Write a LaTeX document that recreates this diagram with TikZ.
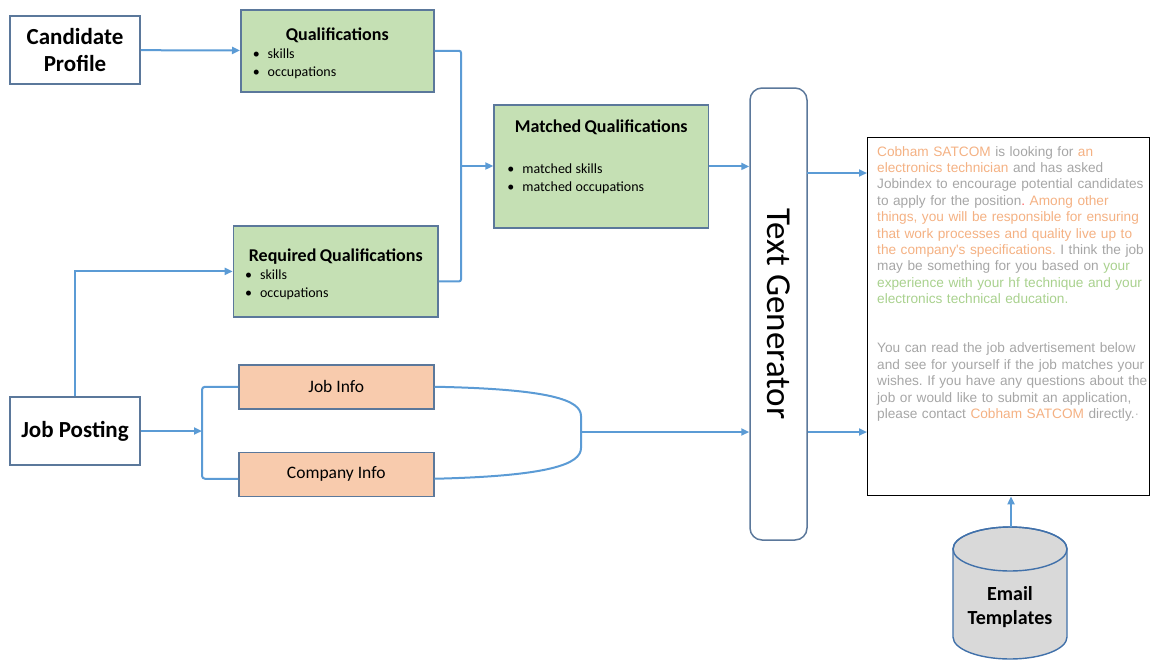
\documentclass[tikz,border=0pt]{standalone}
\usepackage{fontspec}
\usepackage{graphicx}
\setmainfont{Carlito}
\newfontfamily\arialfont{Liberation Sans}
\usetikzlibrary{arrows.meta, calc, positioning}
\definecolor{boxline}{RGB}{91,120,155}
\definecolor{linkblue}{RGB}{91,155,213}
\definecolor{qualgreen}{RGB}{197,224,180}
\definecolor{infoorange}{RGB}{248,203,173}
\definecolor{txtgrey}{RGB}{166,166,166}
\definecolor{txtorange}{RGB}{244,177,131}
\definecolor{txtgreen}{RGB}{169,209,142}
\definecolor{dbgrey}{RGB}{217,217,217}
\definecolor{dbline}{RGB}{65,113,170}
\newcommand{\qtitle}[1]{{\centering\fontsize{18}{22}\selectfont\bfseries\rule{0pt}{17.5pt}#1\par}\fontsize{14}{18}\selectfont}
\newcommand{\qitem}[1]{\makebox[15pt][l]{\textbullet}#1\par}
\tikzstyle{source}=[rectangle, draw=boxline, fill=white, line width=1.5pt, inner sep=0pt, minimum width=130pt, minimum height=68pt, align=center, font=\fontsize{23}{27.7}\selectfont\bfseries]
\tikzstyle{qual}=[rectangle, draw=boxline, fill=qualgreen, line width=1.5pt, inner sep=0pt, align=left, anchor=north west]
\tikzstyle{info}=[rectangle, draw=boxline, fill=infoorange, line width=1.5pt, minimum width=195pt, minimum height=44pt, font=\fontsize{17.5}{21}\selectfont, anchor=north west]
\tikzstyle{tgbox}=[rectangle, rounded corners=12pt, draw=boxline, line width=1.5pt, inner sep=0pt, minimum width=57pt, minimum height=452pt, font=\fontsize{35}{40}\selectfont]
\tikzstyle{link}=[draw=linkblue, line width=2pt]

\begin{document}
\begin{tikzpicture}[x=1pt, y=-1pt, >={Triangle[length=8pt, width=7pt]}]
  \useasboundingbox (0,0) rectangle (1150,659);

  % inputs
  \node[source] (cand) at (75,50) {Candidate\\Profile};
  \node[source] (post) at (75,431) {Job Posting};

  % qualifications
  \node[qual, minimum width=193pt, minimum height=82pt, text width=169pt] (qual) at (240,9)
    {\qtitle{Qualifications}\qitem{skills}\qitem{occupations}};
  \node[qual, minimum width=204.6pt, minimum height=90.7pt, text width=181.4pt] (req) at (232.7,225.3)
    {\qtitle{Required Qualifications}\qitem{skills}\qitem{occupations}};
  \node[qual, minimum width=214.4pt, minimum height=123.3pt, text width=187.6pt] (match) at (493.3,104)
    {\qtitle{Matched Qualifications}\vspace{23pt}\qitem{matched skills}\qitem{matched occupations\rule[-26pt]{0pt}{26pt}}};

  % job posting parts
  \node[info] (jobinfo) at (238,364) {Job Info};
  \node[info, below=42pt of jobinfo] (compinfo) {Company Info};

  % generator and output
  \node[tgbox] (tg) at (778.5,314) {\rotatebox{-90}{Text Generator}};
  \node[rectangle, draw=black, line width=1.4pt, minimum width=282pt, minimum height=358pt, anchor=north west] (mail) at (867,137) {};
  \node[anchor=north west, inner sep=0pt, text width=280pt, align=left, text=txtgrey,
        font=\frenchspacing\arialfont\fontsize{13.65}{16.4}\selectfont] (body) at (877,146)
    {\textcolor{txtorange}{Cobham SATCOM} is looking for \textcolor{txtorange}{an}\\
     \textcolor{txtorange}{electronics technician} and has asked\\
     Jobindex to encourage potential candidates\\
     to apply for the position\textcolor{red!60}{.} \textcolor{txtorange}{Among other}\\
     \textcolor{txtorange}{things, you will be responsible for ensuring}\\
     \textcolor{txtorange}{that work processes and quality live up to}\\
     \textcolor{txtorange}{the company's specifications.} I think the job\\
     may be something for you based on \textcolor{txtgreen}{your}\\
     \textcolor{txtgreen}{experience with your hf technique and your}\\
     \textcolor{txtgreen}{electronics technical education.}\\[32.8pt]
     You can read the job advertisement below\\
     and see for yourself if the job matches your\\
     wishes. If you have any questions about the\\
     job or would like to submit an application,\\
     please contact \textcolor{txtorange}{Cobham SATCOM} directly.\textcolor{txtgrey!70}{·}};

  % email templates store
  \filldraw[draw=dbline, fill=dbgrey, line width=1.4pt] (953,549) -- (953,637)
    arc[start angle=180, end angle=360, x radius=57pt, y radius=22pt] -- (1067,549)
    arc[start angle=0, end angle=180, x radius=57pt, y radius=22pt] -- cycle;
  \draw[draw=dbline, line width=1.4pt] (1010,549) ellipse[x radius=57pt, y radius=22pt];
  \node[align=center, font=\fontsize{20}{24.5}\selectfont\bfseries] (db) at (1010,607) {Email\\Templates};
  \coordinate (dbtop) at (1011,527);

  % connectors
  \coordinate (qjoin) at (461,166);
  \coordinate (split) at (202,431);
  \coordinate (merge) at (581,432);
  \coordinate (mailin) at (807,173);

  \draw[link, ->] (cand) -- (qual);
  \draw[link, rounded corners=2pt] (qual.east) -| (qjoin) |- ($(req.east)+(0,10)$);
  \draw[link, ->] (qjoin) -- (qjoin -| match.west);
  \draw[link, ->] (post.north) |- (req.west);
  \draw[link, ->] (match.east) -- (match.east -| tg.west);

  \draw[link, ->] (post.east) -- (split);
  \draw[link, rounded corners=3pt] (jobinfo.west) -| (split) |- ($(compinfo.west)+(0,4.5)$);
  \draw[link] (jobinfo.east) .. controls (550,389) and (581,400) .. (581,416)
    -- (581,448) .. controls (581,464) and (550,476) .. ($(compinfo.east)+(0,4.5)$);
  \draw[link, ->] (merge) -- (merge -| tg.west);

  \draw[link, ->] (mailin) -- (mailin -| mail.west);
  \draw[link, ->] (merge -| tg.east) -- (merge -| mail.west);
  \draw[link, ->] (dbtop) -- (dbtop |- mail.south);
\end{tikzpicture}
\end{document}
